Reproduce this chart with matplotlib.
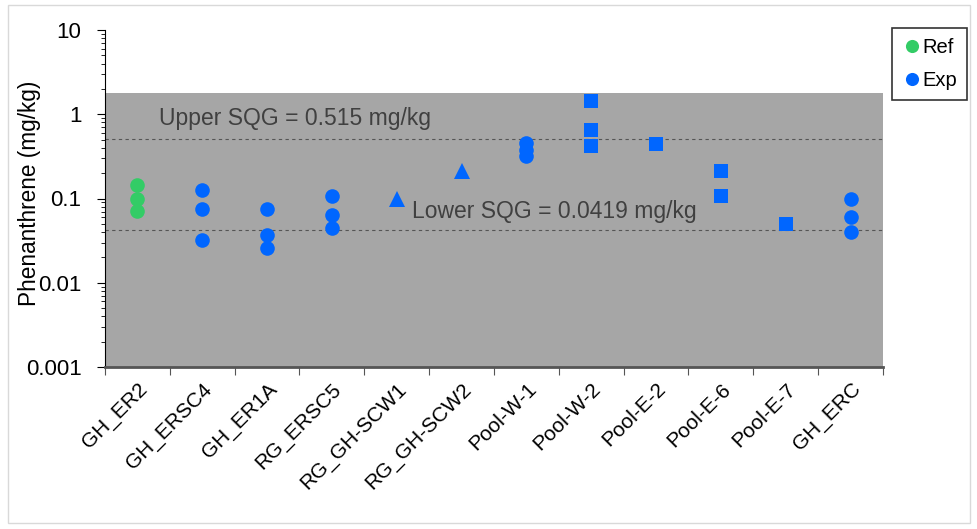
import matplotlib
matplotlib.use("Agg")
import matplotlib.pyplot as plt
from matplotlib.patches import Rectangle

plt.rcParams['font.family'] = ['Liberation Sans', 'DejaVu Sans']

stations = ["GH_ER2", "GH_ERSC4", "GH_ER1A", "RG_ERSC5", "RG_GH-SCW1", "RG_GH-SCW2",
            "Pool-W-1", "Pool-W-2", "Pool-E-2", "Pool-E-6", "Pool-E-7", "GH_ERC"]

# measured phenanthrene (mg/kg) per station
ref_values = {"GH_ER2": [0.143, 0.098, 0.071]}
exp_circle_values = {
    "GH_ERSC4": [0.125, 0.075, 0.0325],
    "GH_ER1A": [0.075, 0.037, 0.0256],
    "RG_ERSC5": [0.107, 0.063, 0.0443],
    "Pool-W-1": [0.456, 0.373, 0.316],
    "GH_ERC": [0.098, 0.060, 0.0397],
}
exp_triangle_values = {
    "RG_GH-SCW1": [0.099],
    "RG_GH-SCW2": [0.211],
}
exp_square_values = {
    "Pool-W-2": [1.44, 0.645, 0.42],
    "Pool-E-2": [0.448],
    "Pool-E-6": [0.211, 0.106],
    "Pool-E-7": [0.0499],
}

upper_sqg = 0.515
lower_sqg = 0.0419
band_top = 1.78

GREEN = "#33CC66"
BLUE = "#0066FF"

fig = plt.figure(figsize=(9.78, 5.29), dpi=100)
fig.patches.append(Rectangle((8 / 978, 6 / 529), 962 / 978, 518 / 529, transform=fig.transFigure,
                             fill=False, edgecolor="#D9D9D9", linewidth=1.0))
ax = fig.add_axes([105 / 978, 1 - 367 / 529, 778 / 978, 337 / 529])

ax.set_yscale("log")
ax.set_ylim(0.001, 10)
ax.set_xlim(-0.5, len(stations) - 0.5)

ax.axhspan(0.001, band_top, facecolor="#A6A6A6", edgecolor="none", zorder=0)
for v in (upper_sqg, lower_sqg):
    ax.axhline(v, color="#555555", linestyle=(0, (3, 3)), linewidth=0.8, zorder=1)

ax.text(0.33, 0.89, f"Upper SQG = {upper_sqg} mg/kg", fontsize=16.5, color="#404040",
        va="center", ha="left", zorder=2)
ax.text(4.24, 0.070, f"Lower SQG = {lower_sqg} mg/kg", fontsize=16.5, color="#404040",
        va="center", ha="left", zorder=2)

idx = {s: i for i, s in enumerate(stations)}

def plot_group(groups, marker, color, ms, label=None):
    first = True
    for st, vals in groups.items():
        ax.plot([idx[st]] * len(vals), vals, linestyle="none", marker=marker, color=color,
                markersize=ms, markeredgewidth=0, zorder=3,
                label=label if first else None)
        first = False

plot_group(ref_values, "o", GREEN, 10.5, "Ref")
plot_group(exp_circle_values, "o", BLUE, 10.5, "Exp")
plot_group(exp_triangle_values, "^", BLUE, 11)
plot_group(exp_square_values, "s", BLUE, 10)

# category ticks sit between stations
ax.set_xticks([i - 0.5 for i in range(len(stations) + 1)])
ax.set_xticklabels([])
ax.set_xticks(range(len(stations)), minor=True)
ax.set_xticklabels(stations, minor=True, rotation=45, ha="right", va="top",
                   rotation_mode="anchor", fontsize=15)
ax.tick_params(axis="x", which="minor", length=0, pad=9)
ax.tick_params(axis="x", which="major", length=6, direction="out", color="#555555")

ax.set_yticks([0.001, 0.01, 0.1, 1, 10])
ax.set_yticklabels(["0.001", "0.01", "0.1", "1", "10"], fontsize=16)
ax.tick_params(axis="y", which="major", length=6, direction="out", pad=11)
ax.tick_params(axis="y", which="minor", length=3, direction="out")
ax.set_ylabel("Phenanthrene (mg/kg)", fontsize=16.3, va="center")
ax.yaxis.set_label_coords(-0.097, 0.515)

for s in ("top", "right"):
    ax.spines[s].set_visible(False)
ax.spines["left"].set_color("black")
ax.spines["bottom"].set_color("#555555")
ax.spines["bottom"].set_linewidth(2)

leg = fig.legend(loc="upper left", bbox_to_anchor=(892 / 978, 1 - 28 / 529), fontsize=14.5,
                 frameon=True, fancybox=False, edgecolor="black", handletextpad=0.0,
                 handlelength=1.0, borderpad=0.5, labelspacing=0.7, markerscale=0.9,
                 borderaxespad=0)
leg.get_frame().set_linewidth(1.2)

fig.savefig("out.png", dpi=100)
